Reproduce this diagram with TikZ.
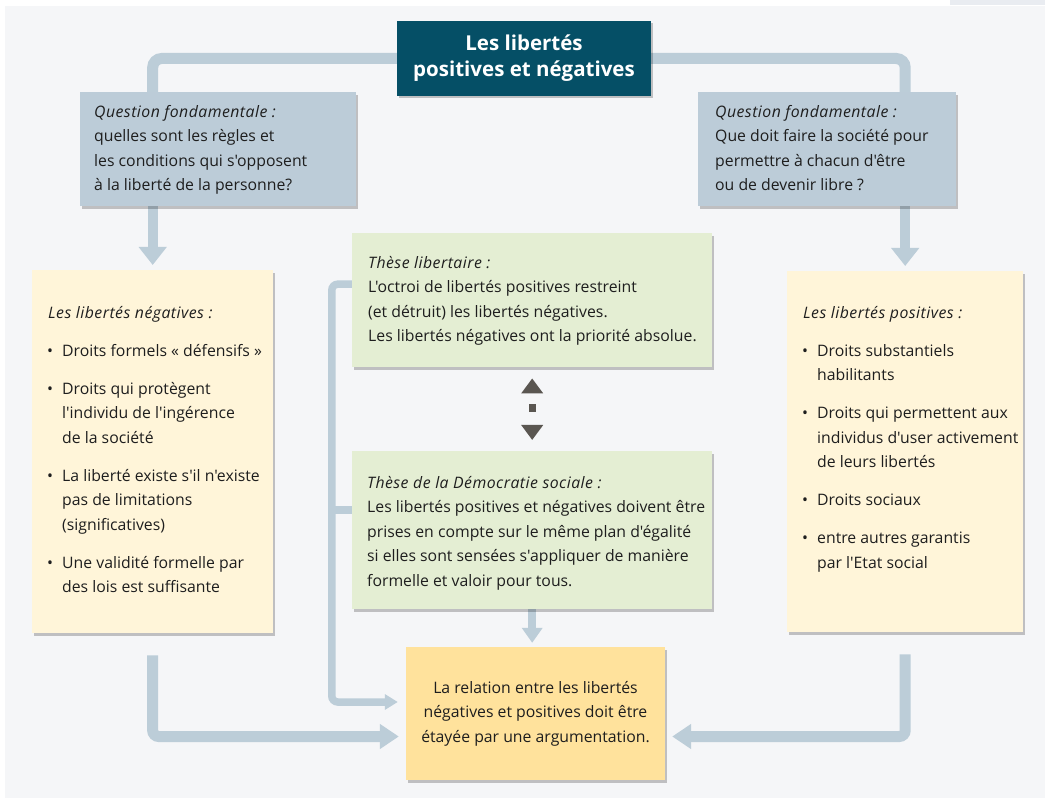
\documentclass[tikz,border=0pt]{standalone}
\usepackage{fontspec}
\setmainfont{Open Sans}[Ligatures=TeXOff, ItalicFeatures={LetterSpace=3}]
\usetikzlibrary{arrows.meta,calc,shadows}

\definecolor{panelbg}{HTML}{F5F6F8}
\definecolor{stripbg}{HTML}{E9ECF1}
\definecolor{linkc}{HTML}{BCCDD8}
\definecolor{qfill}{HTML}{BCCCD8}
\definecolor{titlefill}{HTML}{054F66}
\definecolor{creamfill}{HTML}{FFF5D9}
\definecolor{greenfill}{HTML}{E4EED3}
\definecolor{goldfill}{HTML}{FFE29C}
\definecolor{darkarrow}{HTML}{5A5651}
\definecolor{inktext}{HTML}{1E1E1E}

\pgfdeclarelayer{back}
\pgfdeclarelayer{links}
\pgfsetlayers{back,links,main}

% body of a text panel: left padding, text width, panel height, content
\newcommand{\panelbody}[4]{%
  \hspace*{#1}\parbox[c][#3][t]{#2}{\fontsize{15.8}{24.5}\selectfont
    \setlength{\parskip}{13.5pt}#4}}
% bulleted paragraph with hanging indent
\newcommand{\pitem}[1]{\par\hangindent=14pt\hangafter=1\noindent
  \makebox[14pt][l]{\hspace*{-1pt}\textbullet}#1}

\tikzset{
  panel/.style={rectangle, inner sep=0pt, anchor=north west, text=inktext,
    drop shadow={shadow xshift=2pt, shadow yshift=-2.5pt, opacity=0.22, fill=black}},
  qbox/.style={panel, fill=qfill},
  creambox/.style={panel, fill=creamfill},
  greenbox/.style={panel, fill=greenfill},
  goldbox/.style={panel, fill=goldfill, anchor=center, align=center,
    font=\fontsize{15.8}{24.5}\selectfont},
  titlebox/.style={panel, fill=titlefill, anchor=center, align=center, text=white,
    font=\bfseries\fontsize{20.5}{26}\selectfont},
  link/.style={draw=linkc, line width=11pt},
  toparrow/.style={draw=linkc, line width=10pt, -{Triangle[length=18pt,width=27pt]}, shorten >=5pt},
  basearrow/.style={draw=linkc, line width=11pt, -{Triangle[length=19pt,width=24pt]}, shorten >=7pt, rounded corners=6pt},
  spinearrow/.style={draw=linkc, line width=7.5pt, -{Triangle[length=13pt,width=15pt]}, shorten >=8pt, rounded corners=6pt},
  spine/.style={draw=linkc, line width=7.5pt},
  midarrow/.style={draw=linkc, line width=8pt, -{Triangle[length=15pt,width=20pt]}, shorten >=4pt},
  duelarrow/.style={draw=darkarrow, line width=7pt,
    {Triangle[length=15pt,width=21pt]}-{Triangle[length=15pt,width=21pt]},
    dash pattern=on 0pt off 12pt on 8pt off 20pt}
}

\begin{document}
\begin{tikzpicture}[x=1pt,y=-1pt]
\useasboundingbox (0,0) rectangle (1045,799);

\begin{pgfonlayer}{back}
  \fill[white] (0,0) rectangle (1045,799);
  \fill[panelbg] (5,6) rectangle (1045,798);
  \fill[stripbg] (950,0) rectangle (1045,5);
\end{pgfonlayer}

% title
\node[titlebox, minimum width=254pt, minimum height=75pt] (title) at (524,58.5)
  {Les libertés\\positives et négatives};

% fundamental questions
\node[qbox] (qleft) at (80,92) {\panelbody{14pt}{262pt}{114pt}{%
  \rule{0pt}{25pt}\textit{Question fondamentale :}\\
  quelles sont les règles et\\
  les conditions qui s'opposent\\
  à la liberté de la personne?}};
\node[qbox] (qright) at (698,92) {\panelbody{17pt}{241pt}{114pt}{%
  \rule{0pt}{25pt}\textit{Question fondamentale :}\\
  Que doit faire la société pour\\
  permettre à chacun d'être\\
  ou de devenir libre ?}};

% negative and positive freedoms
\node[creambox] (nneg) at (32,270) {\panelbody{16pt}{225pt}{363pt}{%
  \rule{0pt}{48pt}\textit{Les libertés négatives :}
  \pitem{Droits formels « défensifs »}
  \pitem{Droits qui protègent\\ l'individu de l'ingérence\\ de la société}
  \pitem{La liberté existe s'il n'existe\\ pas de limitations\\ (significatives)}
  \pitem{Une validité formelle par\\ des lois est suffisante}}};
\node[creambox] (npos) at (787,271) {\panelbody{16pt}{220pt}{361pt}{%
  \rule{0pt}{47pt}\textit{Les libertés positives :}
  \pitem{Droits substantiels\\ habilitants}
  \pitem{Droits qui permettent aux\\ individus d'user activement\\ de leurs libertés}
  \pitem{Droits sociaux}
  \pitem{entre autres garantis\\ par l'Etat social}}};

% the two theses
\node[greenbox] (lib) at (352,233) {\panelbody{16pt}{344pt}{134pt}{%
  \rule{0pt}{35pt}\textit{Thèse libertaire :}\\
  L'octroi de libertés positives restreint\\
  (et détruit) les libertés négatives.\\
  Les libertés négatives ont la priorité absolue.}};
\node[greenbox] (dem) at (352,451) {\panelbody{15pt}{345pt}{158pt}{%
  \rule{0pt}{37pt}\textit{Thèse de la Démocratie sociale :}\\
  Les libertés positives et négatives doivent être\\
  prises en compte sur le même plan d'égalité\\
  si elles sont sensées s'appliquer de manière\\
  formelle et valoir pour tous.}};

% conclusion
\node[goldbox, minimum width=259pt, minimum height=133pt] (final) at (535.5,713.5)
  {La relation entre les libertés\\négatives et positives doit être\\étayée par une argumentation.};

% connectors
\begin{pgfonlayer}{links}
  \draw[link, rounded corners=9pt] (title.center) -| ($(qleft.north -| nneg.north)+(0,4)$);
  \draw[link, rounded corners=9pt] (title.center) -| ($(qright.north -| npos.north)+(0,4)$);
  \draw[toparrow] (qleft.south -| nneg.north) -- (nneg.north);
  \draw[toparrow] (qright.south -| npos.north) -- (npos.north);

  \coordinate (negtail) at ($(nneg.south)+(0,22)$);
  \coordinate (postail) at ($(npos.south)+(0,22)$);
  \draw[basearrow] (negtail) |- ($(final.west)+(0,23)$);
  \draw[basearrow] (postail) |- ($(final.east)+(0,23)$);

  \draw[spinearrow] ($(lib.west)+(0,-16)$) -| ($(final.west)+(-74,-11.5)$) -- ($(final.west)+(0,-11.5)$);
  \draw[spine] ($(dem.west)+(0,-20)$) -- ($(dem.west)+(-20,-20)$);
  \draw[midarrow] (dem.south) -- (dem.south |- final.north);
\end{pgfonlayer}

\draw[duelarrow] ($(lib.south)+(0,11)$) -- ($(dem.north)+(0,-11)$);

\end{tikzpicture}
\end{document}
